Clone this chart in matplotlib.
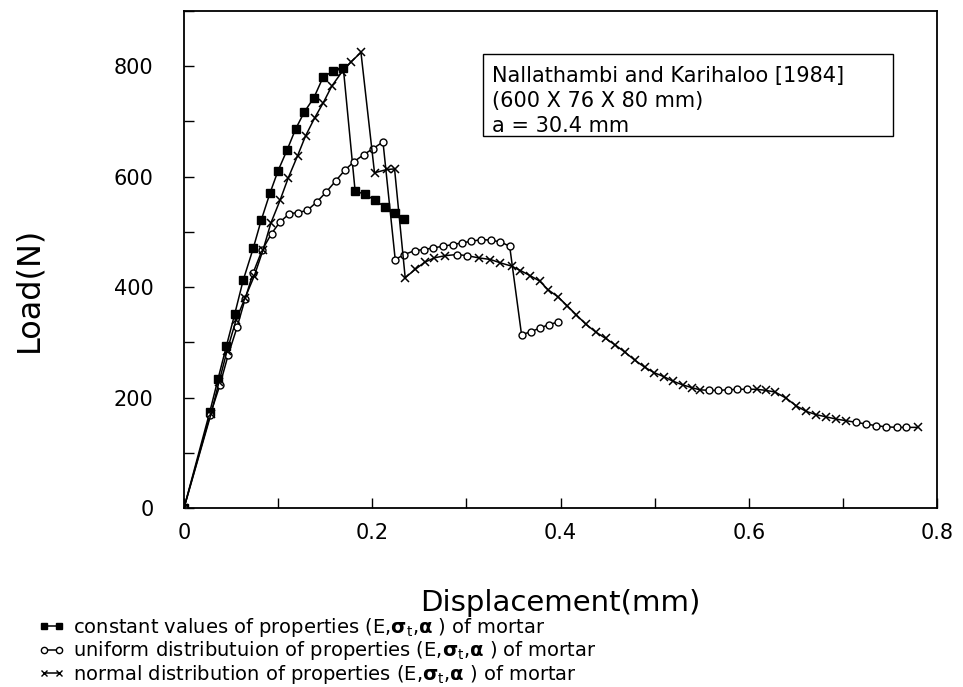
import matplotlib
matplotlib.use("Agg")
import matplotlib.pyplot as plt
from matplotlib.lines import Line2D
from matplotlib.patches import Rectangle
from matplotlib.ticker import MultipleLocator, FixedLocator, FixedFormatter

# ---------------- data ----------------
const_x = [0, 0.0274, 0.0362, 0.045, 0.054, 0.0628, 0.0735, 0.082, 0.0913, 0.100,
           0.1097, 0.1185, 0.1278, 0.138, 0.148, 0.1587, 0.1693, 0.1818, 0.1924,
           0.203, 0.2137, 0.2237, 0.234]
const_y = [0, 174, 234, 293, 352, 412, 470, 521, 570, 611,
           649, 686, 717, 743, 781, 791, 796, 574, 568,
           557, 545, 535, 524]

unif_x = [0, 0.0277, 0.038, 0.0469, 0.0565, 0.065, 0.0735, 0.083, 0.093, 0.102,
          0.112, 0.121, 0.131, 0.141, 0.151, 0.161, 0.171, 0.1805, 0.191, 0.201,
          0.2114, 0.2244, 0.234, 0.245, 0.2545, 0.265, 0.275, 0.2854, 0.295, 0.305,
          0.316, 0.326, 0.336, 0.346, 0.3586, 0.3685, 0.378, 0.3877, 0.3976]
unif_y = [0, 168, 222, 277, 328, 379, 426, 467, 497, 518,
          533, 535, 539, 554, 572, 592, 612, 627, 640, 651,
          663, 450, 459, 466, 468, 471, 474, 477, 480, 483,
          486, 485, 482, 474, 314, 319, 326, 332, 337]

norm_x = [0, 0.0288, 0.0373, 0.0458, 0.0554, 0.065, 0.0746, 0.0841, 0.0923, 0.102,
          0.1108, 0.1207, 0.1292, 0.139, 0.148, 0.157, 0.1675, 0.1775, 0.188, 0.2024,
          0.2155, 0.2237, 0.235, 0.2456, 0.2556, 0.266, 0.2776, 0.29, 0.3006, 0.313,
          0.3256, 0.336, 0.348, 0.3575, 0.3674, 0.3778, 0.387, 0.3976, 0.4072, 0.4167,
          0.4268, 0.4372, 0.448, 0.4583, 0.4686, 0.4787, 0.4894, 0.4995, 0.5096, 0.519,
          0.5297, 0.5395, 0.548, 0.558, 0.5677, 0.578, 0.588, 0.598, 0.6085, 0.618,
          0.628, 0.6396, 0.6504, 0.661, 0.6717, 0.6823, 0.693, 0.7037, 0.7143, 0.725,
          0.7354, 0.746, 0.757, 0.7673, 0.7796]
norm_y = [0, 171, 229, 285, 341, 381, 420, 468, 516, 557,
          598, 638, 674, 707, 734, 764, 789, 808, 825, 607,
          613, 614, 417, 432, 445, 453, 457, 459, 457, 453,
          450, 444, 438, 430, 421, 411, 395, 382, 366, 350,
          333, 319, 307, 295, 282, 268, 255, 245, 238, 230,
          223, 218, 214, 213, 213, 214, 215, 215, 215, 213,
          210, 199, 185, 175, 169, 165, 161, 158, 155, 152,
          149, 147, 146, 146, 146]
# points of the normal-distribution curve printed with round symbols
norm_round_idx = [27, 28, 53, 54, 55, 56, 57, 68, 69, 70, 71, 72, 73]

labels = ["constant values of properties (E,$\\mathbf{\\sigma}_{\\rm t}$,$\\mathbf{\\alpha}$ ) of mortar",
          "uniform distributuion of properties (E,$\\mathbf{\\sigma}_{\\rm t}$,$\\mathbf{\\alpha}$ ) of mortar",
          "normal distribution of properties (E,$\\mathbf{\\sigma}_{\\rm t}$,$\\mathbf{\\alpha}$ ) of mortar"]
info_lines = ["Nallathambi and Karihaloo [1984]", "(600 X 76 X 80 mm)", "a = 30.4 mm"]
xticks = [0, 0.2, 0.4, 0.6, 0.8]
xticklabels = ["0", "0.2", "0.4", "0.6", "0.8"]
yticks = [0, 200, 400, 600, 800]

# ---------------- figure ----------------
plt.rcParams['font.family'] = ['DejaVu Sans']
plt.rcParams['mathtext.fontset'] = 'dejavusans'

fig = plt.figure(figsize=(9.63, 6.87), dpi=100)
ax = fig.add_axes([184/963, 1-508/687, (937-184)/963, (508-11)/687])

lw = 1.1
ax.plot(const_x, const_y, '-', color='black', lw=lw, marker='s', ms=6,
        mfc='black', mec='black')
ax.plot(unif_x, unif_y, '-', color='black', lw=lw, marker='o', ms=5,
        mfc='white', mec='black', mew=1.0)
cross_idx = [i for i in range(len(norm_x)) if i not in norm_round_idx]
ax.plot(norm_x, norm_y, '-', color='black', lw=lw, marker='x', ms=6,
        mew=1.1, mec='black', markevery=cross_idx)
ax.plot(norm_x, norm_y, linestyle='none', marker='o', ms=5, mfc='white',
        mec='black', mew=1.0, markevery=norm_round_idx)

ax.set_xlim(0, 0.8)
ax.set_ylim(0, 900)
ax.xaxis.set_major_locator(FixedLocator(xticks))
ax.xaxis.set_major_formatter(FixedFormatter(xticklabels))
ax.xaxis.set_minor_locator(MultipleLocator(0.1))
ax.yaxis.set_major_locator(FixedLocator(yticks))
ax.yaxis.set_minor_locator(MultipleLocator(100))
ax.tick_params(which='both', direction='in', length=7, width=1.0)
ax.tick_params(axis='x', labelsize=15, pad=11)
ax.tick_params(axis='y', labelsize=15, pad=22)
for s in ax.spines.values():
    s.set_linewidth(1.3)

ax.set_xlabel("Displacement(mm)", fontsize=21)
ax.xaxis.set_label_coords(0.5, -0.162)
ax.set_ylabel("Load(N)", fontsize=23)
ax.yaxis.set_label_coords(-0.186, 0.44)

# info box
ax.add_patch(Rectangle((0.397, 0.748), 0.545, 0.165, transform=ax.transAxes,
                       fill=False, lw=1.0, ec='black'))
for i, t in enumerate(info_lines):
    ax.text(0.409, 0.869 - i*0.05, t, transform=ax.transAxes, fontsize=15,
            ha='left', va='center')

# legend below
handles = [Line2D([], [], color='black', lw=lw, marker='s', ms=5, mfc='black'),
           Line2D([], [], color='black', lw=lw, marker='o', ms=4.5, mfc='white'),
           Line2D([], [], color='black', lw=lw, marker='x', ms=5, mew=1.0)]
fig.legend(handles, labels, loc='upper left', bbox_to_anchor=(38/963, 1-616/687),
           frameon=False, fontsize=14, handlelength=1.4, handletextpad=0.4,
           labelspacing=0.02, borderpad=0, borderaxespad=0, numpoints=2)

fig.savefig("out.png", dpi=100)
